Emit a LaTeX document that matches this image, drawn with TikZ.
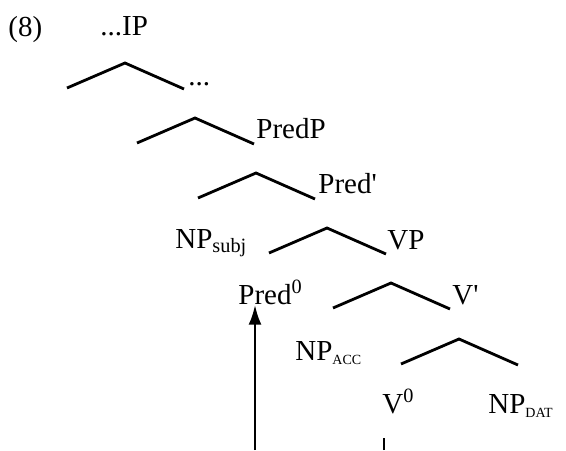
\documentclass[tikz,border=0pt]{standalone}
\usepackage{fontspec}
\setmainfont{Liberation Serif}
\usetikzlibrary{arrows.meta}

\tikzset{
  lbl/.style={anchor=base west, inner sep=0pt, font=\fontsize{14.5}{17}\selectfont},
  branch/.style={line width=1.4pt, line join=miter},
  mvarrow/.style={line width=1.4pt, -{Latex[length=10pt,width=6.5pt]}}
}

\begin{document}
\begin{tikzpicture}[x=0.5pt, y=-0.5pt]
  \useasboundingbox (0,0) rectangle (566,450);

  % labels
  \node[lbl] (ex) at (8,36) {(8)};
  \node[lbl] (ip) at (100,35) {...IP};
  \node[lbl] (dots) at (188,85) {...};
  \node[lbl] (predp) at (256,138) {PredP};
  \node[lbl] (predbar) at (318,193) {Pred\textquotesingle};
  \node[lbl] (npsubj) at (175,248) {NP\textsubscript{subj}};
  \node[lbl] (vp) at (387,249) {VP};
  \node[lbl] (predzero) at (238,304) {Pred\textsuperscript{0}};
  \node[lbl] (vbar) at (452,304) {V\textquotesingle};
  \node[lbl] (npacc) at (295,360) {NP\textsubscript{\scriptsize ACC}};
  \node[lbl] (vzero) at (382,413) {V\textsuperscript{0}};
  \node[lbl] (npdat) at (488,413) {NP\textsubscript{\scriptsize DAT}};

  % branches
  \coordinate (t1) at (125,63);
  \coordinate (t2) at (195,118);
  \coordinate (t3) at (256,173);
  \coordinate (t4) at (327,228);
  \coordinate (t5) at (391,283);
  \coordinate (t6) at (459,339);
  \foreach \t in {t1,t2,t3,t4,t5,t6}
    \draw[branch] (\t) ++(-58,25) -- (\t) -- ++(59,26);

  % movement
  \coordinate (trace) at (255,450);
  \draw[mvarrow] (trace) -- (trace |- predzero.south);
  \coordinate (vfoot) at (384,450);
  \draw[line width=1.4pt] (vfoot) -- ++(0,-12);
\end{tikzpicture}
\end{document}
